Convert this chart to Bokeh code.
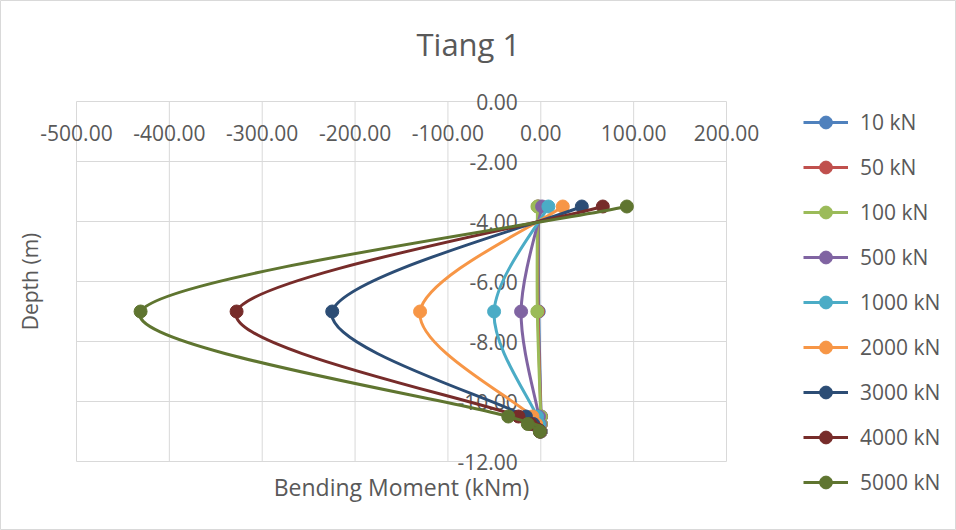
from bokeh.plotting import figure
from bokeh.models import Range1d, Legend, LegendItem, ColumnDataSource
from bokeh.core.properties import value
from bokeh.embed import file_html
from bokeh.resources import INLINE

# Depth of each reading along the pile (m)
depth = [-3.5, -7.0, -10.5, -10.75, -11.0]

# Bending moment (kNm) per axial load case
loads = ["10 kN", "50 kN", "100 kN", "500 kN", "1000 kN",
         "2000 kN", "3000 kN", "4000 kN", "5000 kN"]
m_10 = [-2.6, -2.2, 0.3, 0.1, 0.0]
m_50 = [-3.0, -2.9, 0.2, 0.1, 0.0]
m_100 = [-3.6, -3.7, 0.0, 0.0, 0.0]
m_500 = [1.4, -21.2, -2.0, -1.0, 0.0]
m_1000 = [8.2, -50.3, -4.0, -2.0, -0.3]
m_2000 = [23.7, -130.0, -9.0, -5.0, -0.5]
m_3000 = [44.2, -224.6, -16.0, -8.0, -0.8]
m_4000 = [66.8, -327.6, -24.0, -11.0, -1.0]
m_5000 = [92.7, -431.0, -35.0, -14.0, -1.0]
moments = [m_10, m_50, m_100, m_500, m_1000, m_2000, m_3000, m_4000, m_5000]

colors = ["#4F81BD", "#C0504D", "#9BBB59", "#8064A2", "#4BACC6",
          "#F79646", "#2C4D75", "#772C2A", "#5F7530"]

x_ticks = [-500, -400, -300, -200, -100, 0, 100, 200]
x_tick_labels = ["-500.00", "-400.00", "-300.00", "-200.00", "-100.00",
                 "0.00", "100.00", "200.00"]
y_ticks = [0, -2, -4, -6, -8, -10, -12]
y_tick_labels = ["0.00", "-2.00", "-4.00", "-6.00", "-8.00", "-10.00", "-12.00"]

FONT = "Open Sans"
TXT = "#595959"
GRID = "#D9D9D9"

W, H = 956, 530
# plot area in pixels: x -500..200 over 76..726, y 0..-12 over 101..461
PX_L, PX_R, PX_T, PX_B = 76, 726, 101, 461
xmin, xmax = x_ticks[0], x_ticks[-1]
ymin, ymax = y_ticks[-1], y_ticks[0]
ux = (xmax - xmin) / (PX_R - PX_L)
uy = (ymax - ymin) / (PX_B - PX_T)
x_range = Range1d(xmin - PX_L * ux, xmax + (W - PX_R) * ux)
y_range = Range1d(ymin - (H - PX_B) * uy, ymax + PX_T * uy)

p = figure(width=W, height=H, output_backend="svg", toolbar_location=None,
           x_range=x_range, y_range=y_range,
           x_axis_location=None, y_axis_location=None, min_border=0)
p.outline_line_color = GRID
p.background_fill_color = "white"
p.border_fill_color = "white"
for g in p.grid:
    g.visible = False

# Gridlines limited to the plot area
p.segment(x0=x_ticks, y0=[ymin] * len(x_ticks), x1=x_ticks, y1=[ymax] * len(x_ticks),
          line_color=GRID, line_width=1)
p.segment(x0=[xmin] * len(y_ticks), y0=y_ticks, x1=[xmax] * len(y_ticks), y1=y_ticks,
          line_color=GRID, line_width=1)

# Tick labels sit along the axes that cross at the origin
p.text(x=x_ticks, y=[0] * len(x_ticks), text=x_tick_labels,
       text_font=value(FONT), text_font_size="21px", text_color=TXT,
       text_align="center", text_baseline="middle", y_offset=31)
p.text(x=[0] * len(y_ticks), y=y_ticks, text=y_tick_labels,
       text_font=value(FONT), text_font_size="21px", text_color=TXT,
       text_align="right", text_baseline="middle", x_offset=-23)


def smooth_segments(xs, ys, t=1.0 / 6.0):
    """Cubic Bezier pieces through the points (Catmull-Rom style)."""
    n = len(xs)
    seg = dict(x0=[], y0=[], x1=[], y1=[], cx0=[], cy0=[], cx1=[], cy1=[])
    for i in range(n - 1):
        ip = max(i - 1, 0)
        inn = min(i + 2, n - 1)
        seg["x0"].append(xs[i]); seg["y0"].append(ys[i])
        seg["x1"].append(xs[i + 1]); seg["y1"].append(ys[i + 1])
        seg["cx0"].append(xs[i] + (xs[i + 1] - xs[ip]) * t)
        seg["cy0"].append(ys[i] + (ys[i + 1] - ys[ip]) * t)
        seg["cx1"].append(xs[i + 1] - (xs[inn] - xs[i]) * t)
        seg["cy1"].append(ys[i + 1] - (ys[inn] - ys[i]) * t)
    return seg


items = []
for name, m, c in zip(loads, moments, colors):
    src = ColumnDataSource(smooth_segments(m, depth))
    p.bezier(x0="x0", y0="y0", x1="x1", y1="y1",
             cx0="cx0", cy0="cy0", cx1="cx1", cy1="cy1",
             source=src, line_color=c, line_width=3)
    pts = p.scatter(x=m, y=depth, size=13, marker="circle",
                    fill_color=c, line_color=c)
    # a one-point line gives the legend its swatch stroke
    sw = p.line(x=[m[0]], y=[depth[0]], line_color=c, line_width=3)
    items.append(LegendItem(label=name, renderers=[sw, pts]))

legend = Legend(items=items, location=(803, 32),
                label_text_font=FONT, label_text_font_size="21px",
                label_text_color=TXT, label_standoff=12,
                glyph_width=45, glyph_height=32, label_height=32,
                spacing=13, padding=13, margin=0,
                background_fill_alpha=0, border_line_color=None)
p.add_layout(legend)

# Chart and axis titles
p.text(x=[(xmin + xmax) / 2 + 72], y=[ymax], text=["Tiang 1"],
       text_font=value(FONT), text_font_size="31px", text_color=TXT,
       text_align="center", text_baseline="middle", y_offset=-58)
p.text(x=[(xmin + xmax) / 2], y=[ymin], text=["Bending Moment (kNm)"],
       text_font=value(FONT), text_font_size="23px", text_color=TXT,
       text_align="center", text_baseline="middle", y_offset=25)
p.text(x=[xmin], y=[(ymin + ymax) / 2], text=["Depth (m)"],
       angle=90, angle_units="deg",
       text_font=value(FONT), text_font_size="21px", text_color=TXT,
       text_align="center", text_baseline="middle", x_offset=-47)

open("out.html", "w").write(file_html(p, INLINE))
